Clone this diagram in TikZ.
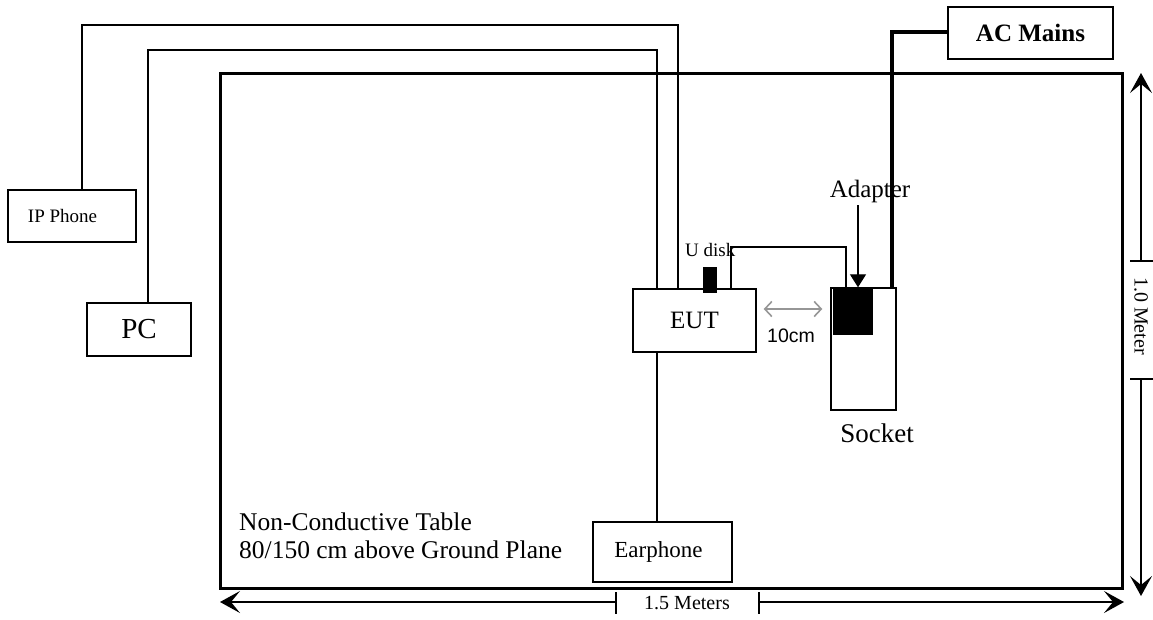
\documentclass[tikz,border=0pt]{standalone}
\usepackage{fontspec}
\setmainfont{Liberation Serif}
\newfontfamily\arialfont{Liberation Sans}
\usetikzlibrary{arrows.meta}
\definecolor{dimgray}{RGB}{150,150,150}
\tikzset{
  box/.style={draw, line width=1.4pt, inner sep=0pt, fill=white},
  tablebox/.style={draw, line width=3pt, inner sep=0pt},
  blk/.style={fill=black, draw=black, line width=0.5pt, inner sep=0pt},
  cable/.style={line width=1.6pt},
  thickcable/.style={line width=3.2pt},
  dimline/.style={line width=1.5pt},
  dimtip/.style={-{Stealth[length=20pt,width=22pt,inset=9pt]}, line width=1.5pt},
  txt/.style={inner sep=0pt},
}
\begin{document}
\begin{tikzpicture}[x=1pt,y=-1pt]
\useasboundingbox (0,0) rectangle (1153,619);

% table
\node[tablebox, minimum width=902pt, minimum height=515pt] (table) at (671,330.5) {};

% boxes
\node[box, minimum width=128pt, minimum height=52pt, font=\fontsize{19}{22}\selectfont] (ipphone) at (72,216) {IP Phone\hspace*{19pt}};
\node[box, minimum width=104pt, minimum height=53pt, font=\fontsize{29}{33}\selectfont] (pc) at (139,329.5) {PC};
\node[box, minimum width=123pt, minimum height=63pt, font=\fontsize{25}{29}\selectfont] (eut) at (694.5,320.5) {EUT};
\node[box, minimum width=139pt, minimum height=60pt, font=\fontsize{23}{27}\selectfont] (earphone) at (662.5,552) {Earphone\hspace*{8pt}};
\node[box, minimum width=65pt, minimum height=122pt] (socket) at (863.5,349) {};
\node[box, minimum width=165pt, minimum height=52pt, font=\bfseries\fontsize{25}{29}\selectfont] (acmains) at (1030.5,33) {AC Mains};

% black blocks
\node[blk, minimum width=39pt, minimum height=46pt] (adapter) at (852.5,311) {};
\node[blk, minimum width=13pt, minimum height=25pt] (udisk) at (709.5,279.5) {};

% labels
\node[txt, anchor=base west, font=\fontsize{19}{22}\selectfont] (udisklbl) at (685,256) {U disk};
\node[txt, anchor=base, font=\fontsize{25}{29}\selectfont] (adapterlbl) at (870,197) {Adapter};
\node[txt, anchor=base, font=\fontsize{27}{31}\selectfont] (socketlbl) at (877,442) {Socket};
\node[txt, anchor=base, font=\arialfont\fontsize{19.5}{23}\selectfont] (cmlbl) at (791,342) {10cm};
\node[txt, anchor=base west, font=\fontsize{25.5}{29}\selectfont] (tbl1) at (239,530) {Non-Conductive Table};
\node[txt, anchor=base west, font=\fontsize{25.5}{29}\selectfont] (tbl2) at (239,558) {80/150 cm above Ground Plane};

% cables
\coordinate (ipbend) at (678,25);
\coordinate (pcbend) at (657,50);
\draw[cable] ([xshift=10pt]ipphone.north) |- (ipbend) -- (ipbend |- eut.north);
\draw[cable] ([xshift=9pt]pc.north) |- (pcbend) -- (pcbend |- eut.north);
\draw[cable] (earphone.north -| pcbend) -- (eut.south -| pcbend);
\coordinate (ubend) at (731,247);
\coordinate (sbend) at (846,247);
\draw[cable] (eut.north -| ubend) -- (ubend) -- (sbend) -- (sbend |- socket.north);
\coordinate (acbend) at (892,32);
\draw[thickcable] (socket.north -| acbend) -- (acbend) -- (acmains.west |- acbend);
\coordinate (adtop) at (858,205);
\draw[line width=1.3pt, -{Triangle[length=13pt,width=16pt]}] (adtop) -- (adtop |- socket.north);
\draw[dimgray, line width=1.6pt, {Straight Barb[length=7pt,width=15pt]}-{Straight Barb[length=7pt,width=15pt]}] ([xshift=7pt,yshift=11.5pt]eut.east) -- ([xshift=-8pt,yshift=11.5pt]socket.west |- eut.east);

% bottom dimension
\node[txt, font=\fontsize{20}{24}\selectfont] (wlbl) at (687,603) {1.5 Meters};
\coordinate (wl) at (616,602);
\coordinate (wr) at (759,602);
\coordinate (wltip) at (220,602);
\coordinate (wrtip) at (1124,602);
\draw[dimline] (616,592) -- (616,614);
\draw[dimline] (759,592) -- (759,614);
\draw[dimtip] (wl) -- (wltip);
\draw[dimtip] (wr) -- (wrtip);

% right dimension
\node[txt, rotate=-90, font=\fontsize{20}{24}\selectfont] (hlbl) at (1141,316) {1.0 Meter};
\coordinate (ht) at (1141,261);
\coordinate (hb) at (1141,379);
\coordinate (httip) at (1141,73);
\coordinate (hbtip) at (1141,596);
\draw[dimline] (1130,261) -- (1153,261);
\draw[dimline] (1130,379) -- (1153,379);
\draw[dimtip] (ht) -- (httip);
\draw[dimtip] (hb) -- (hbtip);
\end{tikzpicture}
\end{document}
